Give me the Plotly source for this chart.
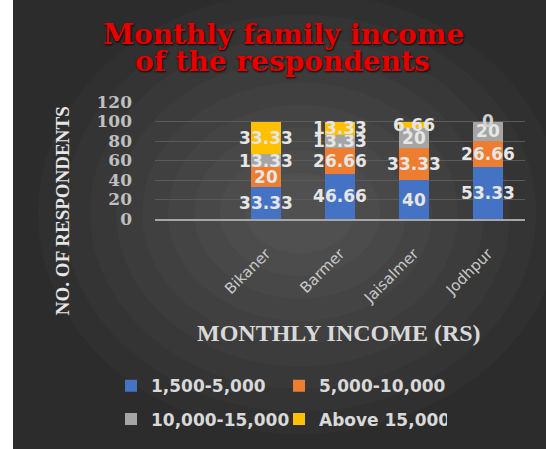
import plotly.graph_objects as go

districts = ["Bikaner", "Barmer", "Jaisalmer", "Jodhpur"]
income_groups = ["1,500-5,000", "5,000-10,000", "10,000-15,000", "Above 15,000"]
share_1500_5000 = [33.33, 46.66, 40, 53.33]
share_5000_10000 = [20, 26.66, 33.33, 26.66]
share_10000_15000 = [13.33, 13.33, 20, 20]
share_above_15000 = [33.33, 13.33, 6.66, 0]
y_ticks = [0, 20, 40, 60, 80, 100, 120]

series = [share_1500_5000, share_5000_10000, share_10000_15000, share_above_15000]
colors = ["#4472C4", "#ED7D31", "#A5A5A5", "#FFC000"]
legend_rows = ["legend", "legend", "legend2", "legend2"]

W, H = 546, 449
L, R, T, B = 155, 21, 102, 228
pw, ph = W - L - R, H - T - B


def px_x(x):
    # page pixel -> paper fraction
    return (x - L) / pw


def px_y(y):
    return (H - B - y) / ph


bar_font = dict(family="DejaVu Sans", size=17, color="#e6e6e6", weight="bold")

fig = go.Figure()
for name, vals, col, lg in zip(income_groups, series, colors, legend_rows):
    fig.add_trace(go.Bar(
        x=districts,
        y=vals,
        name=name,
        legend=lg,
        marker=dict(color=col, line=dict(width=0)),
        width=0.4,
        text=[f"{v:g}" for v in vals],
        textposition="inside",
        insidetextanchor="middle",
        textangle=0,
        constraintext="none",
        insidetextfont=bar_font,
    ))

# zero-height segments still get their label, sitting on the bar top
annotations = []
for i, d in enumerate(districts):
    for vals in series:
        if vals[i] == 0:
            annotations.append(dict(
                x=d, y=sum(s[i] for s in series), text=f"{vals[i]:g}",
                showarrow=False, yanchor="middle", yshift=1,
                font=dict(family="DejaVu Sans", size=17, color="#cfcfcf", weight="bold"),
            ))

# dark panel with a soft radial light
shapes = [dict(type="rect", xref="paper", yref="paper",
               x0=px_x(13), x1=px_x(560), y0=px_y(460), y1=px_y(-10),
               fillcolor="#2c2c2c", line=dict(width=0), layer="below")]
cx, cy = 300, 215
for i in range(9):
    rx = 262 - i * 26
    ry = 225 - i * 23
    shapes.append(dict(type="circle", xref="paper", yref="paper",
                       x0=px_x(cx - rx), x1=px_x(cx + rx),
                       y0=px_y(cy + ry), y1=px_y(cy - ry),
                       fillcolor="rgba(255,255,255,0.022)", line=dict(width=0), layer="below"))

title_font = dict(family="DejaVu Serif", size=28, color="#e60000", weight="bold",
                  shadow="1px 1px 2px #000")
label_font = dict(family="DejaVu Sans", size=17, color="#d9d9d9", weight="bold")

annotations += [
    dict(text="Monthly family income", xref="paper", yref="paper",
         x=px_x(283), y=px_y(33), xanchor="center", yanchor="middle",
         showarrow=False, font=title_font),
    dict(text="of the respondents", xref="paper", yref="paper",
         x=px_x(282), y=px_y(61), xanchor="center", yanchor="middle",
         showarrow=False, font=title_font),
    dict(text="NO. OF RESPONDENTS", xref="paper", yref="paper",
         x=px_x(62), y=px_y(213), xanchor="center", yanchor="middle",
         textangle=-90, showarrow=False,
         font=dict(family="Liberation Serif", size=19, color="#e6e6e6", weight="bold")),
    dict(text="MONTHLY INCOME (RS)", xref="paper", yref="paper",
         x=px_x(339), y=px_y(337), xanchor="center", yanchor="middle",
         showarrow=False,
         font=dict(family="Liberation Serif", size=24, color="#d9d9d9", weight="bold")),
]

fig.update_layout(
    width=W, height=H,
    margin=dict(l=L, r=R, t=T, b=B),
    paper_bgcolor="white",
    plot_bgcolor="rgba(0,0,0,0)",
    barmode="stack",
    bargap=0.6,
    shapes=shapes,
    uniformtext=dict(minsize=17, mode="show"),
    legend=dict(orientation="h", x=px_x(111), xanchor="left", y=px_y(391), yanchor="middle",
                font=label_font, entrywidth=123, bgcolor="rgba(0,0,0,0)", traceorder="normal"),
    legend2=dict(orientation="h", x=px_x(111), xanchor="left", y=px_y(425), yanchor="middle",
                 font=label_font, entrywidth=123, bgcolor="rgba(0,0,0,0)", traceorder="normal"),
    annotations=annotations,
)

fig.update_xaxes(
    range=[-1.5, 3.5],
    tickangle=-45,
    tickfont=dict(family="DejaVu Sans", size=15, color="#c8c8c8"),
    showgrid=False,
    showline=True, linecolor="#a6a6a6", linewidth=2,
    ticks="outside", ticklen=18, tickcolor="rgba(0,0,0,0)",
    fixedrange=True,
)
fig.update_yaxes(
    range=[0, 120],
    tickvals=y_ticks,
    tickfont=dict(family="DejaVu Serif", size=17, color="#bfbfbf", weight="bold"),
    showgrid=True, gridcolor="#5a5a5a", gridwidth=1,
    zeroline=False, showline=False,
    ticklabelstandoff=22,
    fixedrange=True,
)

# drop the default body margin so the figure sits at the page origin
fig.write_html("out.html", config={"displayModeBar": False},
               post_script="document.body.style.margin='0';")
